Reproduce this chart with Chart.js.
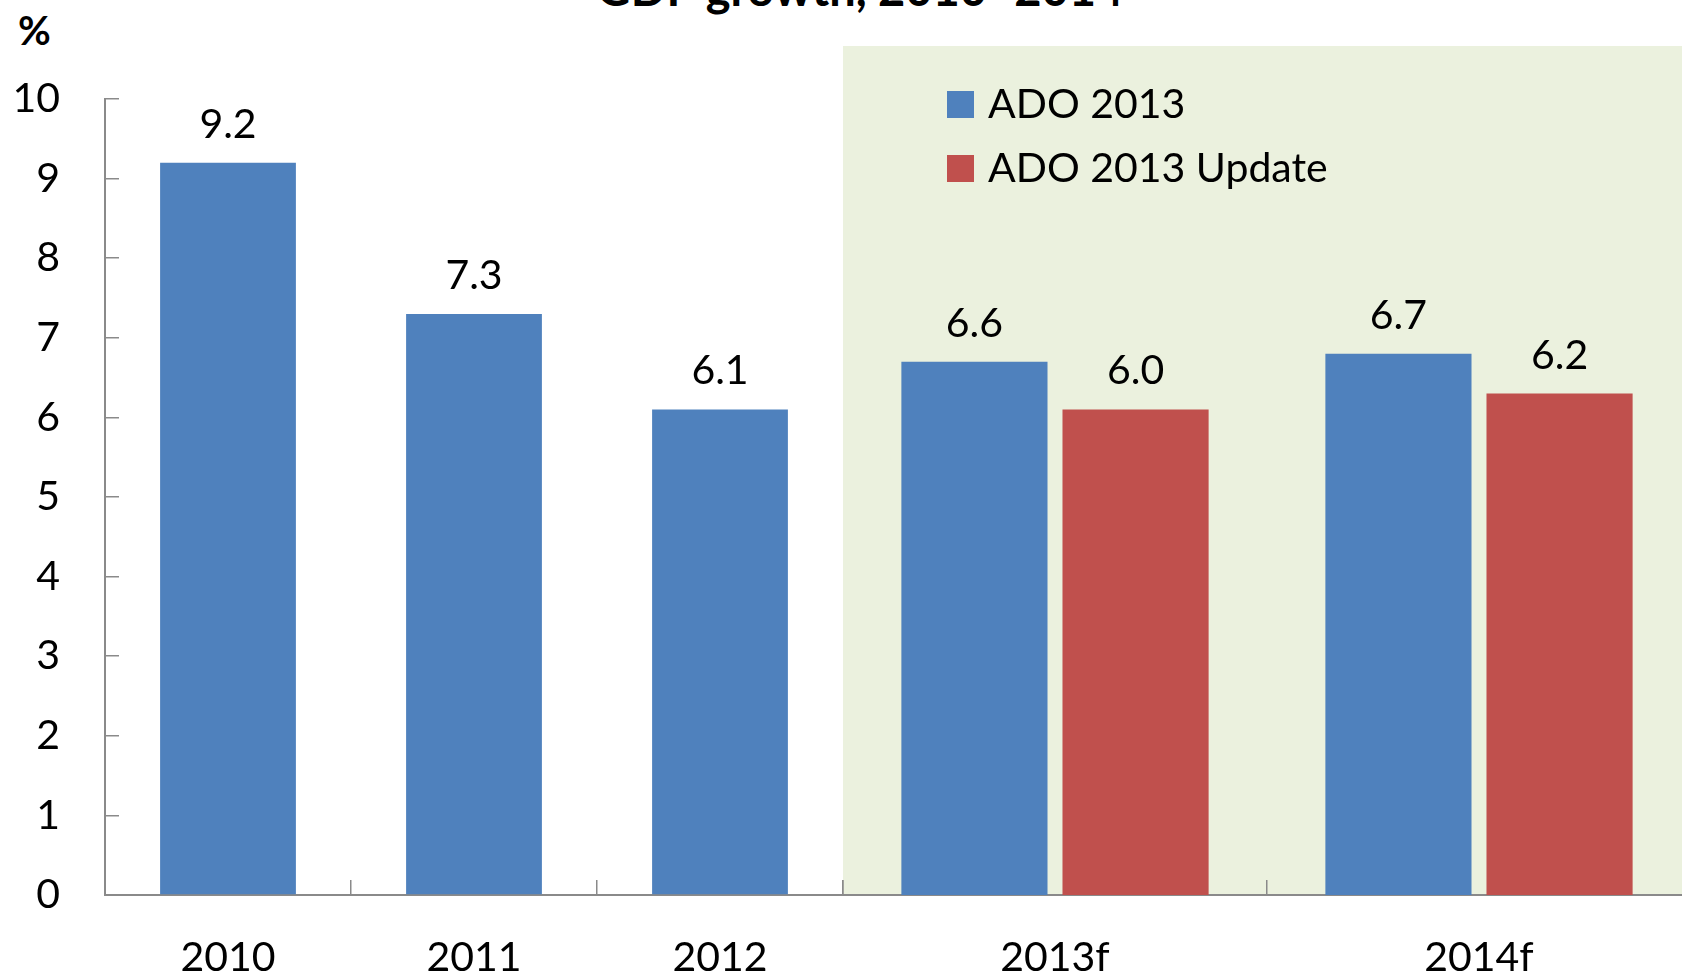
<!DOCTYPE html>
<html>
<head>
<meta charset="utf-8">
<script src="https://cdn.jsdelivr.net/npm/chart.js@4/dist/chart.umd.min.js"></script>
<style>
  html, body { margin: 0; padding: 0; background: #ffffff; }
  body { width: 1682px; height: 974px; overflow: hidden; position: relative; font-family: Lato, "Noto Sans", sans-serif; }
  #title { position: absolute; left: 0; width: 1720px; top: -40px; text-align: center; font: bold 47px Lato; line-height: 1.2; color: #000; white-space: nowrap; }
  #pct { position: absolute; left: 18px; top: 6px; font: bold 40px Lato; line-height: 1.2; color: #000; }
  #wrapB { position: absolute; left: 843px; top: 0; width: 857px; height: 974px; }
  #wrapA { position: absolute; left: 0; top: 0; width: 860px; height: 974px; }
  #legend { position: absolute; left: 947px; top: 0; }
  .lg-box { position: absolute; width: 27px; height: 27px; }
  .lg-txt { position: absolute; left: 41px; font: 41px Lato; line-height: 1.2; color: #000; white-space: nowrap; }
</style>
</head>
<body>
<div id="title">GDP growth, 2010–2014</div>
<div id="pct">%</div>
<div id="wrapB"><canvas id="cB"></canvas></div>
<div id="wrapA"><canvas id="cA"></canvas></div>
<div id="legend"></div>
<script>
// ---- data ----
const categories = ['2010', '2011', '2012', '2013f', '2014f'];
const seriesNames = ['ADO 2013', 'ADO 2013 Update'];
const ado2013 = [9.2, 7.3, 6.1, 6.7, 6.8];
const ado2013Update = [null, null, null, 6.1, 6.3];
const ado2013Labels = ['9.2', '7.3', '6.1', '6.6', '6.7'];
const ado2013UpdateLabels = ['', '', '', '6.0', '6.2'];
const yTicks = [0, 1, 2, 3, 4, 5, 6, 7, 8, 9, 10];
const actualCount = 3; // 2010-2012 actuals, rest are forecasts

// ---- styles ----
const BLUE = '#4F81BD', RED = '#C0504D', GREEN = '#EBF1DE', AXIS = '#8A8A8A';
const FONT = { family: 'Lato', size: 41 };

const valueLabels = {
  id: 'valueLabels',
  afterDatasetsDraw(chart) {
    const ctx = chart.ctx;
    ctx.save();
    ctx.font = '41px Lato';
    ctx.fillStyle = '#000';
    ctx.textAlign = 'center';
    ctx.textBaseline = 'alphabetic';
    chart.data.datasets.forEach((ds, di) => {
      const meta = chart.getDatasetMeta(di);
      meta.data.forEach((el, i) => {
        if (ds.data[i] == null) return;
        const txt = ds.valueText[i];
        if (!txt) return;
        ctx.fillText(txt, el.x, el.y - 25);
      });
    });
    ctx.restore();
  }
};

const forecastShade = {
  id: 'forecastShade',
  beforeDraw(chart) {
    const { ctx, chartArea } = chart;
    ctx.save();
    ctx.fillStyle = GREEN;
    ctx.fillRect(chartArea.left, chartArea.top - 53, chart.width - chartArea.left, chartArea.bottom - chartArea.top + 53);
    ctx.restore();
  }
};

function xScale() {
  return {
    type: 'category',
    offset: true,
    grid: { display: true, offset: true, drawOnChartArea: false, drawTicks: true, tickLength: -15, color: AXIS, lineWidth: 1.5 },
    border: { display: true, color: AXIS, width: 2 },
    ticks: { font: FONT, color: '#000', padding: 53, maxRotation: 0, autoSkip: false },
    afterFit(s) { s.height = 79; s.paddingLeft = 0; s.paddingRight = 0; }
  };
}

function yScale(show) {
  const sc = {
    display: show,
    min: 0, max: 10,
    afterBuildTicks(s) { s.ticks = yTicks.map(v => ({ value: v })); },
    grid: { display: true, drawOnChartArea: false, drawTicks: true, tickLength: -14, color: AXIS, lineWidth: 1.5 },
    border: { display: true, color: AXIS, width: 2 },
    ticks: { font: FONT, color: '#000', padding: 59 }
  };
  if (show) sc.afterFit = (s) => { s.width = 105; s.paddingTop = 0; s.paddingBottom = 0; };
  return sc;
}

const common = {
  responsive: true,
  maintainAspectRatio: false,
  animation: false,
  plugins: { legend: { display: false }, title: { display: false }, tooltip: { enabled: false } }
};

// Actuals chart (2010-2012)
const chartA = new Chart(document.getElementById('cA'), {
  type: 'bar',
  data: {
    labels: categories.slice(0, actualCount),
    datasets: [{
      label: seriesNames[0],
      data: ado2013.slice(0, actualCount),
      valueText: ado2013Labels.slice(0, actualCount),
      backgroundColor: BLUE,
      categoryPercentage: 0.6,
      barPercentage: 0.92
    }]
  },
  options: Object.assign({}, common, {
    layout: { padding: { top: 99, right: 17, left: 0, bottom: 0 } },
    scales: { x: xScale(), y: yScale(true) }
  }),
  plugins: [valueLabels]
});

// Forecast chart (2013f-2014f)
const chartB = new Chart(document.getElementById('cB'), {
  type: 'bar',
  data: {
    labels: categories.slice(actualCount),
    datasets: [{
      label: seriesNames[0],
      data: ado2013.slice(actualCount),
      valueText: ado2013Labels.slice(actualCount),
      backgroundColor: BLUE,
      categoryPercentage: 0.76,
      barPercentage: 0.907
    }, {
      label: seriesNames[1],
      data: ado2013Update.slice(actualCount),
      valueText: ado2013UpdateLabels.slice(actualCount),
      backgroundColor: RED,
      categoryPercentage: 0.76,
      barPercentage: 0.907
    }]
  },
  options: Object.assign({}, common, {
    layout: { padding: { top: 99, right: 9, left: 0, bottom: 0 } },
    scales: { x: xScale(), y: yScale(false) }
  }),
  plugins: [forecastShade, valueLabels]
});

// HTML legend built from the chart's own legend items
const legendEl = document.getElementById('legend');
const items = Chart.defaults.plugins.legend.labels.generateLabels(chartB);
items.forEach((it, k) => {
  const rowTop = 77.5 + k * 64;
  const box = document.createElement('div');
  box.className = 'lg-box';
  box.style.top = (rowTop + 13.5) + 'px';
  box.style.left = '0px';
  box.style.background = it.fillStyle;
  const txt = document.createElement('div');
  txt.className = 'lg-txt';
  txt.style.top = rowTop + 'px';
  txt.textContent = it.text;
  legendEl.appendChild(box);
  legendEl.appendChild(txt);
});
</script>
</body>
</html>
